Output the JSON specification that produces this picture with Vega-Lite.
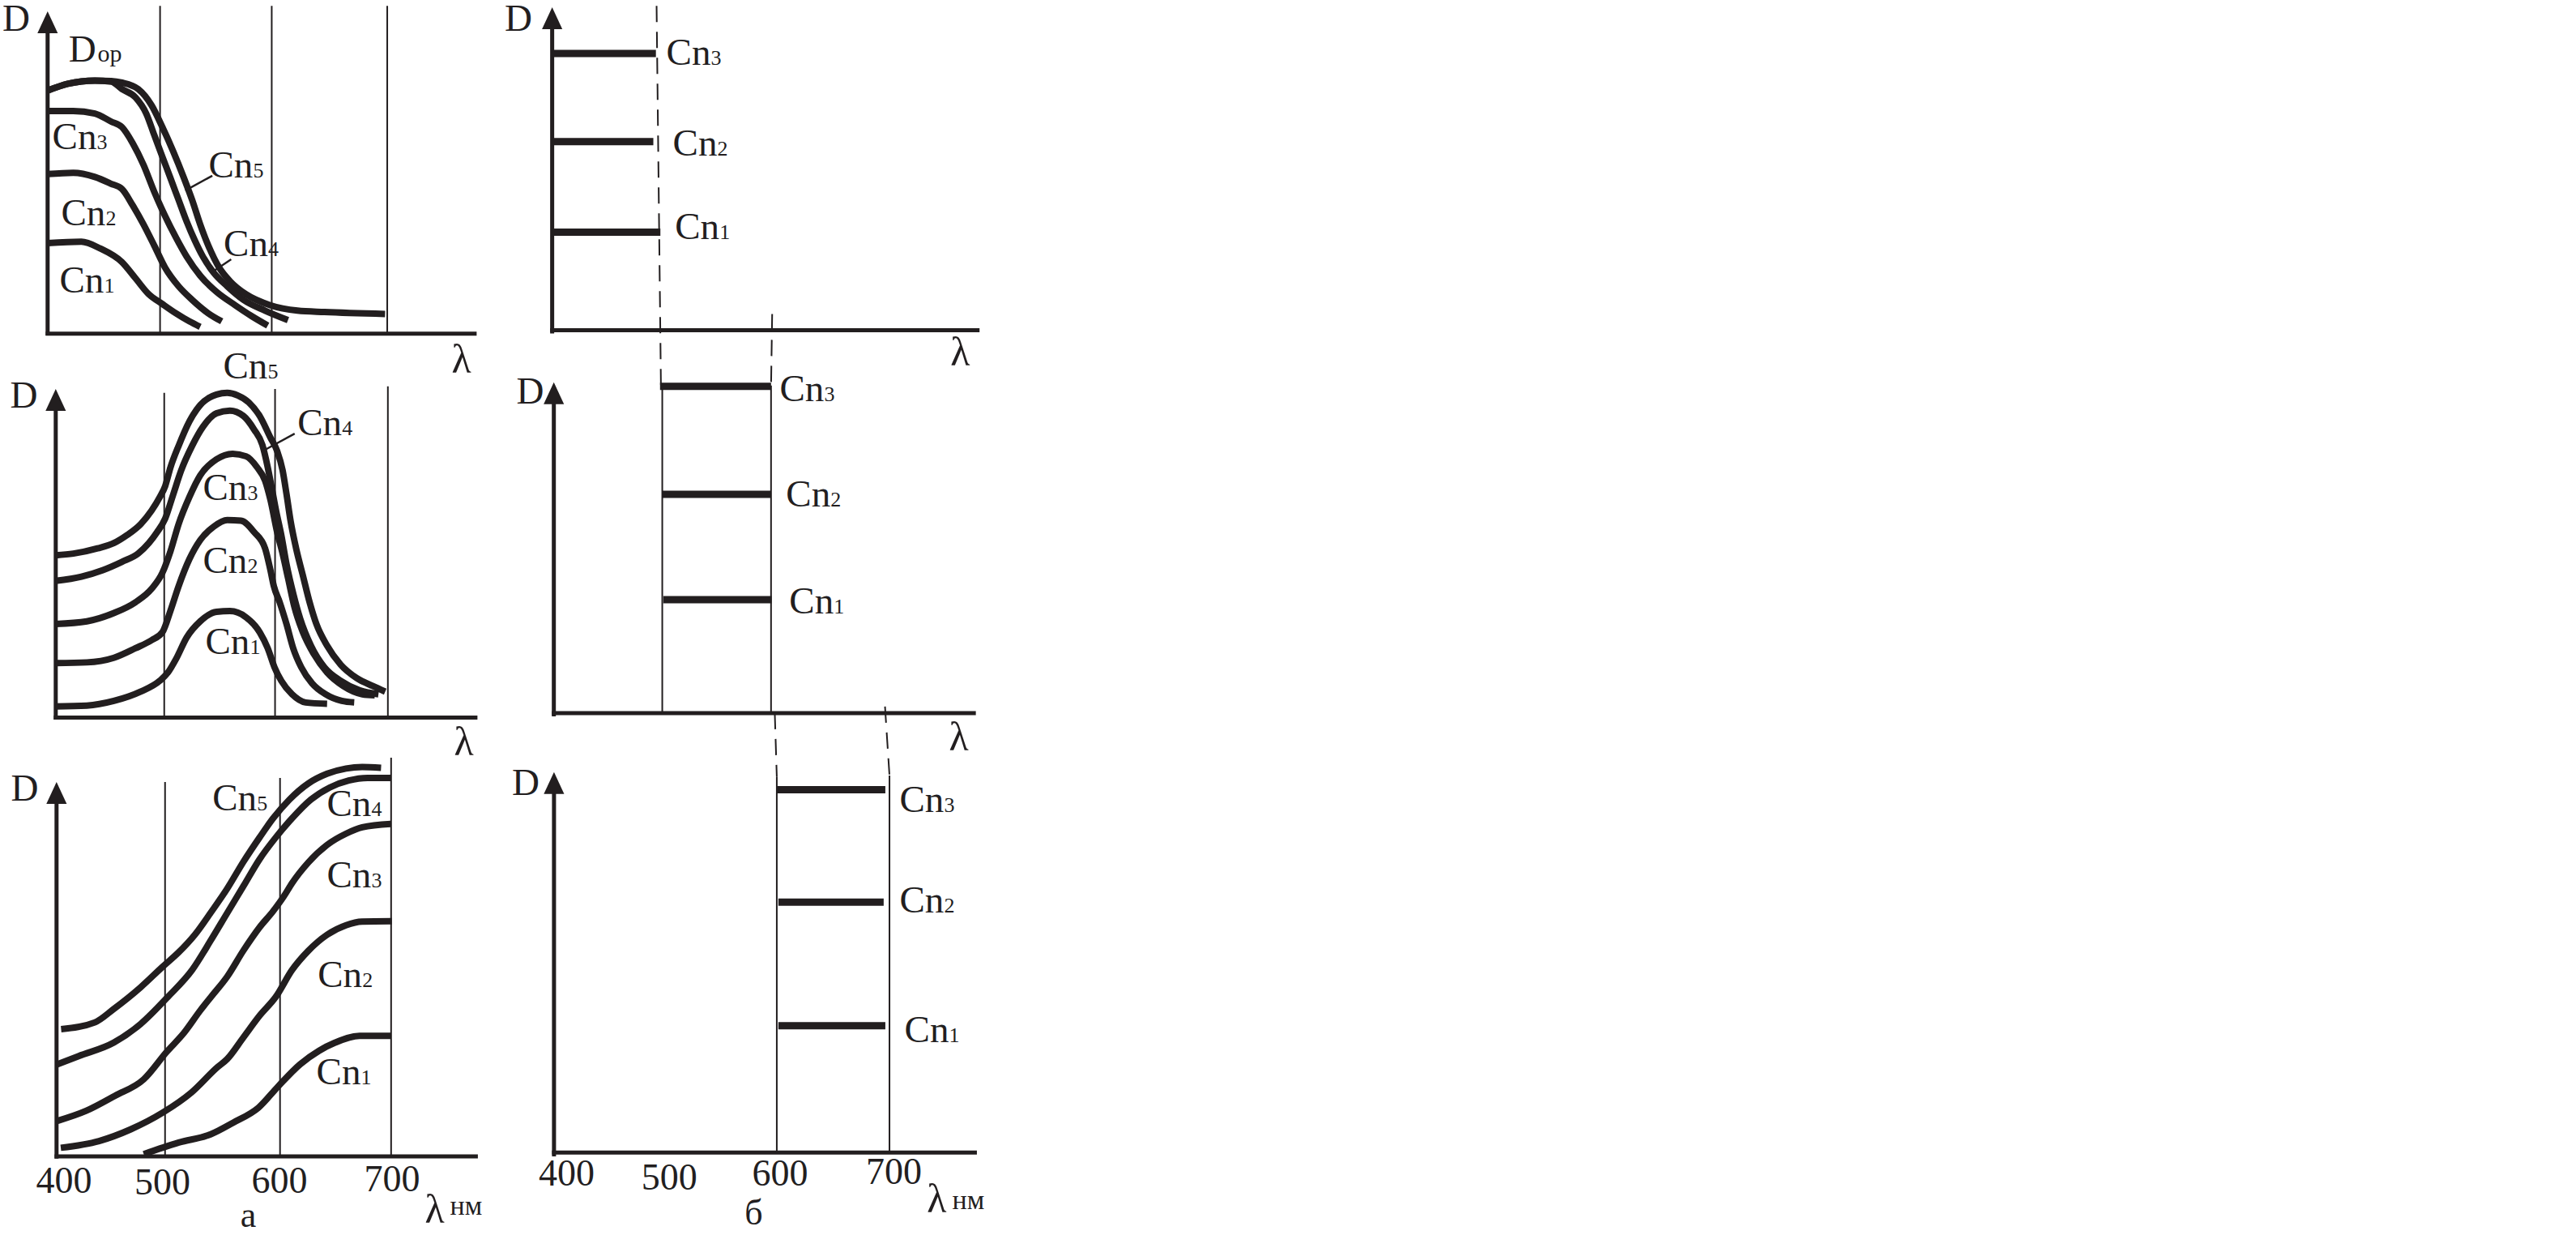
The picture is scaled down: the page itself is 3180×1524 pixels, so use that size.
{
"$schema": "https://vega.github.io/schema/vega-lite/v6.json",
"background": "white",
"padding": {"left": 2.5, "top": 0, "right": 20, "bottom": 0},
"config": {"view": {"stroke": null}, "font": "Liberation Serif"},
"datasets": {"fig": [
{"p":"a1","g":"axis","x":400,"y":-0.006,"x2":400,"y2":0.96},
{"p":"a1","g":"axis","x":398.3,"y":0,"x2":777.7,"y2":0},
{"p":"a1","g":"grid","x":499,"y":0,"x2":499,"y2":1.017},
{"p":"a1","g":"grid","x":597.3,"y":0,"x2":597.3,"y2":1.017},
{"p":"a1","g":"grid","x":699,"y":0,"x2":699,"y2":1.017},
{"p":"a1","g":"lead","x":521.2,"y":0.444,"x2":545,"y2":0.49},
{"p":"a1","g":"lead","x":543.8,"y":0.1886,"x2":561.6,"y2":0.2307},
{"p":"a1","g":"arrow","x":400,"y":1},
{"p":"a1","g":"D","t":"D","x":360.2,"y":0.9391},
{"p":"a1","g":"D","t":"D","x":418.5,"y":0.8436},
{"p":"a1","g":"op","t":"ор","x":444,"y":0.8436},
{"p":"a1","g":"cn","t":"Cn","sub":"3","x":404.1,"y":0.5725},
{"p":"a1","g":"cn","t":"Cn","sub":"2","x":411.9,"y":0.336},
{"p":"a1","g":"cn","t":"Cn","sub":"1","x":410.5,"y":0.1275},
{"p":"a1","g":"cn","t":"Cn","sub":"5","x":541.7,"y":0.4845},
{"p":"a1","g":"cn","t":"Cn","sub":"4","x":555,"y":0.241},
{"p":"a1","g":"lam","t":"λ","x":755.6,"y":-0.1215},
{"p":"a1","g":"curve","s":"Cn1","x":400,"y":0.281},{"p":"a1","g":"curve","s":"Cn1","x":429.7,"y":0.285},{"p":"a1","g":"curve","s":"Cn1","x":446.4,"y":0.264},{"p":"a1","g":"curve","s":"Cn1","x":465.4,"y":0.222},{"p":"a1","g":"curve","s":"Cn1","x":477.3,"y":0.172},{"p":"a1","g":"curve","s":"Cn1","x":489.1,"y":0.122},{"p":"a1","g":"curve","s":"Cn1","x":501,"y":0.092},{"p":"a1","g":"curve","s":"Cn1","x":513,"y":0.063},{"p":"a1","g":"curve","s":"Cn1","x":524.8,"y":0.038},{"p":"a1","g":"curve","s":"Cn1","x":534.3,"y":0.021},
{"p":"a1","g":"curve","s":"Cn2","x":400,"y":0.495},{"p":"a1","g":"curve","s":"Cn2","x":422.6,"y":0.499},{"p":"a1","g":"curve","s":"Cn2","x":441.6,"y":0.486},{"p":"a1","g":"curve","s":"Cn2","x":455.9,"y":0.465},{"p":"a1","g":"curve","s":"Cn2","x":465.4,"y":0.449},{"p":"a1","g":"curve","s":"Cn2","x":474.9,"y":0.398},{"p":"a1","g":"curve","s":"Cn2","x":484.4,"y":0.339},{"p":"a1","g":"curve","s":"Cn2","x":493.9,"y":0.273},{"p":"a1","g":"curve","s":"Cn2","x":503.4,"y":0.205},{"p":"a1","g":"curve","s":"Cn2","x":515.3,"y":0.147},{"p":"a1","g":"curve","s":"Cn2","x":527.2,"y":0.105},{"p":"a1","g":"curve","s":"Cn2","x":541.5,"y":0.063},{"p":"a1","g":"curve","s":"Cn2","x":553.3,"y":0.038},
{"p":"a1","g":"curve","s":"Cn3","x":400,"y":0.691},{"p":"a1","g":"curve","s":"Cn3","x":422.6,"y":0.691},{"p":"a1","g":"curve","s":"Cn3","x":441.6,"y":0.683},{"p":"a1","g":"curve","s":"Cn3","x":455.9,"y":0.658},{"p":"a1","g":"curve","s":"Cn3","x":465.4,"y":0.641},{"p":"a1","g":"curve","s":"Cn3","x":474.9,"y":0.591},{"p":"a1","g":"curve","s":"Cn3","x":484.4,"y":0.524},{"p":"a1","g":"curve","s":"Cn3","x":493.9,"y":0.44},{"p":"a1","g":"curve","s":"Cn3","x":503.4,"y":0.365},{"p":"a1","g":"curve","s":"Cn3","x":513,"y":0.298},{"p":"a1","g":"curve","s":"Cn3","x":522.4,"y":0.239},{"p":"a1","g":"curve","s":"Cn3","x":534.3,"y":0.18},{"p":"a1","g":"curve","s":"Cn3","x":548.6,"y":0.13},{"p":"a1","g":"curve","s":"Cn3","x":565.2,"y":0.088},{"p":"a1","g":"curve","s":"Cn3","x":579.5,"y":0.0546},{"p":"a1","g":"curve","s":"Cn3","x":593.8,"y":0.025},
{"p":"a1","g":"curve","s":"Cn4","x":400,"y":0.754},{"p":"a1","g":"curve","s":"Cn4","x":417.8,"y":0.775},{"p":"a1","g":"curve","s":"Cn4","x":441.6,"y":0.785},{"p":"a1","g":"curve","s":"Cn4","x":456,"y":0.782},{"p":"a1","g":"curve","s":"Cn4","x":465.4,"y":0.759},{"p":"a1","g":"curve","s":"Cn4","x":477.3,"y":0.733},{"p":"a1","g":"curve","s":"Cn4","x":486.8,"y":0.683},{"p":"a1","g":"curve","s":"Cn4","x":493.9,"y":0.616},{"p":"a1","g":"curve","s":"Cn4","x":501,"y":0.549},{"p":"a1","g":"curve","s":"Cn4","x":508.2,"y":0.482},{"p":"a1","g":"curve","s":"Cn4","x":515.3,"y":0.415},{"p":"a1","g":"curve","s":"Cn4","x":522.4,"y":0.348},{"p":"a1","g":"curve","s":"Cn4","x":529.6,"y":0.289},{"p":"a1","g":"curve","s":"Cn4","x":536.7,"y":0.239},{"p":"a1","g":"curve","s":"Cn4","x":546.2,"y":0.189},{"p":"a1","g":"curve","s":"Cn4","x":558.1,"y":0.147},{"p":"a1","g":"curve","s":"Cn4","x":572.4,"y":0.105},{"p":"a1","g":"curve","s":"Cn4","x":591.4,"y":0.0714},{"p":"a1","g":"curve","s":"Cn4","x":611.6,"y":0.042},
{"p":"a1","g":"curve","s":"Cn5","x":400,"y":0.754},{"p":"a1","g":"curve","s":"Cn5","x":417.8,"y":0.775},{"p":"a1","g":"curve","s":"Cn5","x":441.6,"y":0.785},{"p":"a1","g":"curve","s":"Cn5","x":456,"y":0.784},{"p":"a1","g":"curve","s":"Cn5","x":465.4,"y":0.779},{"p":"a1","g":"curve","s":"Cn5","x":479.7,"y":0.759},{"p":"a1","g":"curve","s":"Cn5","x":491.6,"y":0.708},{"p":"a1","g":"curve","s":"Cn5","x":501,"y":0.641},{"p":"a1","g":"curve","s":"Cn5","x":510.5,"y":0.566},{"p":"a1","g":"curve","s":"Cn5","x":520.1,"y":0.482},{"p":"a1","g":"curve","s":"Cn5","x":527.2,"y":0.415},{"p":"a1","g":"curve","s":"Cn5","x":534.3,"y":0.339},{"p":"a1","g":"curve","s":"Cn5","x":541.5,"y":0.273},{"p":"a1","g":"curve","s":"Cn5","x":551,"y":0.205},{"p":"a1","g":"curve","s":"Cn5","x":560.5,"y":0.163},{"p":"a1","g":"curve","s":"Cn5","x":574.7,"y":0.122},{"p":"a1","g":"curve","s":"Cn5","x":596.1,"y":0.088},{"p":"a1","g":"curve","s":"Cn5","x":619.9,"y":0.0714},{"p":"a1","g":"curve","s":"Cn5","x":643.7,"y":0.067},{"p":"a1","g":"curve","s":"Cn5","x":697.1,"y":0.061},

{"p":"a2","g":"axis","x":400,"y":-0.006,"x2":400,"y2":0.96},
{"p":"a2","g":"axis","x":398.2,"y":0,"x2":780.9,"y2":0},
{"p":"a2","g":"grid","x":498,"y":0,"x2":498,"y2":0.988},
{"p":"a2","g":"grid","x":598.1,"y":0,"x2":598.1,"y2":1.0},
{"p":"a2","g":"grid","x":700,"y":0,"x2":700,"y2":1.008},
{"p":"a2","g":"lead","x":589.1,"y":0.815,"x2":615.8,"y2":0.864},
{"p":"a2","g":"arrow","x":400,"y":1},
{"p":"a2","g":"D","t":"D","x":358.8,"y":0.943},
{"p":"a2","g":"cn","t":"Cn","sub":"5","x":551.2,"y":1.032},
{"p":"a2","g":"cn","t":"Cn","sub":"4","x":618.3,"y":0.86},
{"p":"a2","g":"cn","t":"Cn","sub":"3","x":532.9,"y":0.663},
{"p":"a2","g":"cn","t":"Cn","sub":"2","x":532.9,"y":0.441},
{"p":"a2","g":"cn","t":"Cn","sub":"1","x":535.1,"y":0.194},
{"p":"a2","g":"lam","t":"λ","x":759.8,"y":-0.1147},
{"p":"a2","g":"curve","s":"Cn1","x":400,"y":0.034},{"p":"a2","g":"curve","s":"Cn1","x":428.1,"y":0.0365},{"p":"a2","g":"curve","s":"Cn1","x":452.5,"y":0.0506},{"p":"a2","g":"curve","s":"Cn1","x":476.8,"y":0.079},{"p":"a2","g":"curve","s":"Cn1","x":494,"y":0.112},{"p":"a2","g":"curve","s":"Cn1","x":501.3,"y":0.137},{"p":"a2","g":"curve","s":"Cn1","x":508.6,"y":0.178},{"p":"a2","g":"curve","s":"Cn1","x":518.3,"y":0.244},{"p":"a2","g":"curve","s":"Cn1","x":530.5,"y":0.293},{"p":"a2","g":"curve","s":"Cn1","x":545.2,"y":0.322},{"p":"a2","g":"curve","s":"Cn1","x":557.3,"y":0.324},{"p":"a2","g":"curve","s":"Cn1","x":572,"y":0.305},{"p":"a2","g":"curve","s":"Cn1","x":584.2,"y":0.26},{"p":"a2","g":"curve","s":"Cn1","x":591.5,"y":0.211},{"p":"a2","g":"curve","s":"Cn1","x":597.6,"y":0.153},{"p":"a2","g":"curve","s":"Cn1","x":603.7,"y":0.112},{"p":"a2","g":"curve","s":"Cn1","x":613.4,"y":0.071},{"p":"a2","g":"curve","s":"Cn1","x":625.7,"y":0.046},{"p":"a2","g":"curve","s":"Cn1","x":645.1,"y":0.042},
{"p":"a2","g":"curve","s":"Cn2","x":400,"y":0.166},{"p":"a2","g":"curve","s":"Cn2","x":428.1,"y":0.168},{"p":"a2","g":"curve","s":"Cn2","x":452.5,"y":0.182},{"p":"a2","g":"curve","s":"Cn2","x":472,"y":0.211},{"p":"a2","g":"curve","s":"Cn2","x":486.6,"y":0.2355},{"p":"a2","g":"curve","s":"Cn2","x":496.4,"y":0.26},{"p":"a2","g":"curve","s":"Cn2","x":503.7,"y":0.326},{"p":"a2","g":"curve","s":"Cn2","x":511,"y":0.4},{"p":"a2","g":"curve","s":"Cn2","x":520.7,"y":0.482},{"p":"a2","g":"curve","s":"Cn2","x":530.5,"y":0.54},{"p":"a2","g":"curve","s":"Cn2","x":542.7,"y":0.581},{"p":"a2","g":"curve","s":"Cn2","x":554.9,"y":0.601},{"p":"a2","g":"curve","s":"Cn2","x":567.3,"y":0.599},{"p":"a2","g":"curve","s":"Cn2","x":579.3,"y":0.564},{"p":"a2","g":"curve","s":"Cn2","x":589.1,"y":0.515},{"p":"a2","g":"curve","s":"Cn2","x":593.9,"y":0.449},{"p":"a2","g":"curve","s":"Cn2","x":597,"y":0.4},{"p":"a2","g":"curve","s":"Cn2","x":602.3,"y":0.351},{"p":"a2","g":"curve","s":"Cn2","x":608.4,"y":0.285},{"p":"a2","g":"curve","s":"Cn2","x":614.5,"y":0.211},{"p":"a2","g":"curve","s":"Cn2","x":621.8,"y":0.153},{"p":"a2","g":"curve","s":"Cn2","x":631.6,"y":0.104},{"p":"a2","g":"curve","s":"Cn2","x":643.7,"y":0.071},{"p":"a2","g":"curve","s":"Cn2","x":658.4,"y":0.0506},{"p":"a2","g":"curve","s":"Cn2","x":669.6,"y":0.046},
{"p":"a2","g":"curve","s":"Cn3","x":400,"y":0.285},{"p":"a2","g":"curve","s":"Cn3","x":428.1,"y":0.293},{"p":"a2","g":"curve","s":"Cn3","x":452.5,"y":0.318},{"p":"a2","g":"curve","s":"Cn3","x":472,"y":0.351},{"p":"a2","g":"curve","s":"Cn3","x":486.6,"y":0.392},{"p":"a2","g":"curve","s":"Cn3","x":496.4,"y":0.441},{"p":"a2","g":"curve","s":"Cn3","x":503.7,"y":0.507},{"p":"a2","g":"curve","s":"Cn3","x":511,"y":0.589},{"p":"a2","g":"curve","s":"Cn3","x":520.7,"y":0.671},{"p":"a2","g":"curve","s":"Cn3","x":530.5,"y":0.737},{"p":"a2","g":"curve","s":"Cn3","x":545.2,"y":0.786},{"p":"a2","g":"curve","s":"Cn3","x":559.8,"y":0.803},{"p":"a2","g":"curve","s":"Cn3","x":572,"y":0.795},{"p":"a2","g":"curve","s":"Cn3","x":581.8,"y":0.762},{"p":"a2","g":"curve","s":"Cn3","x":589.1,"y":0.721},{"p":"a2","g":"curve","s":"Cn3","x":593.9,"y":0.663},{"p":"a2","g":"curve","s":"Cn3","x":600,"y":0.564},{"p":"a2","g":"curve","s":"Cn3","x":604.9,"y":0.499},{"p":"a2","g":"curve","s":"Cn3","x":609.8,"y":0.425},{"p":"a2","g":"curve","s":"Cn3","x":615.8,"y":0.334},{"p":"a2","g":"curve","s":"Cn3","x":623.2,"y":0.26},{"p":"a2","g":"curve","s":"Cn3","x":633,"y":0.194},{"p":"a2","g":"curve","s":"Cn3","x":645.1,"y":0.137},{"p":"a2","g":"curve","s":"Cn3","x":659.8,"y":0.0957},{"p":"a2","g":"curve","s":"Cn3","x":676.9,"y":0.071},{"p":"a2","g":"curve","s":"Cn3","x":688.1,"y":0.068},
{"p":"a2","g":"curve","s":"Cn4","x":400,"y":0.416},{"p":"a2","g":"curve","s":"Cn4","x":423.2,"y":0.429},{"p":"a2","g":"curve","s":"Cn4","x":442.7,"y":0.449},{"p":"a2","g":"curve","s":"Cn4","x":459.8,"y":0.474},{"p":"a2","g":"curve","s":"Cn4","x":474.4,"y":0.499},{"p":"a2","g":"curve","s":"Cn4","x":484.1,"y":0.531},{"p":"a2","g":"curve","s":"Cn4","x":491.5,"y":0.564},{"p":"a2","g":"curve","s":"Cn4","x":498.8,"y":0.605},{"p":"a2","g":"curve","s":"Cn4","x":506.1,"y":0.679},{"p":"a2","g":"curve","s":"Cn4","x":513.4,"y":0.753},{"p":"a2","g":"curve","s":"Cn4","x":523.2,"y":0.827},{"p":"a2","g":"curve","s":"Cn4","x":533,"y":0.885},{"p":"a2","g":"curve","s":"Cn4","x":545.2,"y":0.926},{"p":"a2","g":"curve","s":"Cn4","x":557.3,"y":0.934},{"p":"a2","g":"curve","s":"Cn4","x":569.5,"y":0.918},{"p":"a2","g":"curve","s":"Cn4","x":579.3,"y":0.876},{"p":"a2","g":"curve","s":"Cn4","x":586.6,"y":0.83},{"p":"a2","g":"curve","s":"Cn4","x":591.5,"y":0.7615},{"p":"a2","g":"curve","s":"Cn4","x":595.3,"y":0.696},{"p":"a2","g":"curve","s":"Cn4","x":599,"y":0.63},{"p":"a2","g":"curve","s":"Cn4","x":603.7,"y":0.556},{"p":"a2","g":"curve","s":"Cn4","x":608.5,"y":0.466},{"p":"a2","g":"curve","s":"Cn4","x":614.7,"y":0.375},{"p":"a2","g":"curve","s":"Cn4","x":620.8,"y":0.301},{"p":"a2","g":"curve","s":"Cn4","x":630.5,"y":0.219},{"p":"a2","g":"curve","s":"Cn4","x":642.7,"y":0.153},{"p":"a2","g":"curve","s":"Cn4","x":657.3,"y":0.112},{"p":"a2","g":"curve","s":"Cn4","x":674.4,"y":0.083},{"p":"a2","g":"curve","s":"Cn4","x":691.5,"y":0.071},
{"p":"a2","g":"curve","s":"Cn5","x":400,"y":0.494},{"p":"a2","g":"curve","s":"Cn5","x":415.9,"y":0.499},{"p":"a2","g":"curve","s":"Cn5","x":437.8,"y":0.515},{"p":"a2","g":"curve","s":"Cn5","x":452.5,"y":0.531},{"p":"a2","g":"curve","s":"Cn5","x":464.7,"y":0.556},{"p":"a2","g":"curve","s":"Cn5","x":476.8,"y":0.589},{"p":"a2","g":"curve","s":"Cn5","x":486.6,"y":0.63},{"p":"a2","g":"curve","s":"Cn5","x":494,"y":0.671},{"p":"a2","g":"curve","s":"Cn5","x":498.8,"y":0.704},{"p":"a2","g":"curve","s":"Cn5","x":503.7,"y":0.762},{"p":"a2","g":"curve","s":"Cn5","x":511,"y":0.827},{"p":"a2","g":"curve","s":"Cn5","x":520.7,"y":0.901},{"p":"a2","g":"curve","s":"Cn5","x":530.5,"y":0.951},{"p":"a2","g":"curve","s":"Cn5","x":545.2,"y":0.983},{"p":"a2","g":"curve","s":"Cn5","x":554.9,"y":0.988},{"p":"a2","g":"curve","s":"Cn5","x":564.6,"y":0.98},{"p":"a2","g":"curve","s":"Cn5","x":574.4,"y":0.959},{"p":"a2","g":"curve","s":"Cn5","x":584.2,"y":0.918},{"p":"a2","g":"curve","s":"Cn5","x":593.9,"y":0.852},{"p":"a2","g":"curve","s":"Cn5","x":600,"y":0.811},{"p":"a2","g":"curve","s":"Cn5","x":604.9,"y":0.753},{"p":"a2","g":"curve","s":"Cn5","x":608.5,"y":0.679},{"p":"a2","g":"curve","s":"Cn5","x":612.2,"y":0.597},{"p":"a2","g":"curve","s":"Cn5","x":617.1,"y":0.515},{"p":"a2","g":"curve","s":"Cn5","x":623.2,"y":0.433},{"p":"a2","g":"curve","s":"Cn5","x":629.3,"y":0.351},{"p":"a2","g":"curve","s":"Cn5","x":635.4,"y":0.285},{"p":"a2","g":"curve","s":"Cn5","x":645.1,"y":0.219},{"p":"a2","g":"curve","s":"Cn5","x":657.3,"y":0.1615},{"p":"a2","g":"curve","s":"Cn5","x":672,"y":0.12},{"p":"a2","g":"curve","s":"Cn5","x":686.6,"y":0.0957},{"p":"a2","g":"curve","s":"Cn5","x":697.6,"y":0.079},

{"p":"a3","g":"axis","x":400,"y":-0.006,"x2":400,"y2":0.96},
{"p":"a3","g":"axis","x":398.2,"y":0,"x2":777.8,"y2":0},
{"p":"a3","g":"grid","x":497.3,"y":0,"x2":497.3,"y2":1.0},
{"p":"a3","g":"grid","x":600.4,"y":0,"x2":600.4,"y2":1.011},
{"p":"a3","g":"grid","x":700,"y":0,"x2":700,"y2":1.065},
{"p":"a3","g":"arrow","x":400,"y":1},
{"p":"a3","g":"D","t":"D","x":359.1,"y":0.95},
{"p":"a3","g":"cn","t":"Cn","sub":"5","x":539.8,"y":0.924},
{"p":"a3","g":"cn","t":"Cn","sub":"4","x":642.4,"y":0.91},
{"p":"a3","g":"cn","t":"Cn","sub":"3","x":642.4,"y":0.7186},
{"p":"a3","g":"cn","t":"Cn","sub":"2","x":634.2,"y":0.4517},
{"p":"a3","g":"cn","t":"Cn","sub":"1","x":633,"y":0.1926},
{"p":"a3","g":"lam","t":"λ","x":730.3,"y":-0.1775},
{"p":"a3","g":"nm","t":"нм","x":752.8,"y":-0.1558},
{"p":"a3","g":"cap","t":"а","x":571.9,"y":-0.188},
{"p":"a3","g":"tick","t":"400","x":406.7,"y":-0.097},
{"p":"a3","g":"tick","t":"500","x":494.9,"y":-0.1017},
{"p":"a3","g":"tick","t":"600","x":599.9,"y":-0.0974},
{"p":"a3","g":"tick","t":"700","x":700.9,"y":-0.0931},
{"p":"a3","g":"curve","s":"Cn1","x":478.2,"y":0.006},{"p":"a3","g":"curve","s":"Cn1","x":509.6,"y":0.037},{"p":"a3","g":"curve","s":"Cn1","x":538.2,"y":0.059},{"p":"a3","g":"curve","s":"Cn1","x":558.3,"y":0.09},{"p":"a3","g":"curve","s":"Cn1","x":581.2,"y":0.1305},{"p":"a3","g":"curve","s":"Cn1","x":599,"y":0.188},{"p":"a3","g":"curve","s":"Cn1","x":618.4,"y":0.246},{"p":"a3","g":"curve","s":"Cn1","x":635.3,"y":0.282},{"p":"a3","g":"curve","s":"Cn1","x":649.9,"y":0.304},{"p":"a3","g":"curve","s":"Cn1","x":671.7,"y":0.322},{"p":"a3","g":"curve","s":"Cn1","x":699.6,"y":0.322},
{"p":"a3","g":"curve","s":"Cn2","x":403.8,"y":0.023},{"p":"a3","g":"curve","s":"Cn2","x":438.1,"y":0.041},{"p":"a3","g":"curve","s":"Cn2","x":466.7,"y":0.0725},{"p":"a3","g":"curve","s":"Cn2","x":495.3,"y":0.117},{"p":"a3","g":"curve","s":"Cn2","x":521.1,"y":0.171},{"p":"a3","g":"curve","s":"Cn2","x":544,"y":0.2375},{"p":"a3","g":"curve","s":"Cn2","x":553,"y":0.26},{"p":"a3","g":"curve","s":"Cn2","x":567.6,"y":0.318},{"p":"a3","g":"curve","s":"Cn2","x":582.1,"y":0.376},{"p":"a3","g":"curve","s":"Cn2","x":596.6,"y":0.426},{"p":"a3","g":"curve","s":"Cn2","x":611.2,"y":0.498},{"p":"a3","g":"curve","s":"Cn2","x":625.7,"y":0.549},{"p":"a3","g":"curve","s":"Cn2","x":642.6,"y":0.592},{"p":"a3","g":"curve","s":"Cn2","x":659.6,"y":0.6175},{"p":"a3","g":"curve","s":"Cn2","x":674.1,"y":0.627},{"p":"a3","g":"curve","s":"Cn2","x":700.7,"y":0.628},
{"p":"a3","g":"curve","s":"Cn3","x":400.9,"y":0.095},{"p":"a3","g":"curve","s":"Cn3","x":426.7,"y":0.122},{"p":"a3","g":"curve","s":"Cn3","x":452.4,"y":0.162},{"p":"a3","g":"curve","s":"Cn3","x":478.2,"y":0.206},{"p":"a3","g":"curve","s":"Cn3","x":499,"y":0.28},{"p":"a3","g":"curve","s":"Cn3","x":514.3,"y":0.33},{"p":"a3","g":"curve","s":"Cn3","x":528.9,"y":0.39},{"p":"a3","g":"curve","s":"Cn3","x":538.5,"y":0.426},{"p":"a3","g":"curve","s":"Cn3","x":553,"y":0.48},{"p":"a3","g":"curve","s":"Cn3","x":567.6,"y":0.55},{"p":"a3","g":"curve","s":"Cn3","x":582.1,"y":0.612},{"p":"a3","g":"curve","s":"Cn3","x":594.2,"y":0.655},{"p":"a3","g":"curve","s":"Cn3","x":603.9,"y":0.695},{"p":"a3","g":"curve","s":"Cn3","x":611.2,"y":0.73},{"p":"a3","g":"curve","s":"Cn3","x":625.7,"y":0.785},{"p":"a3","g":"curve","s":"Cn3","x":642.6,"y":0.832},{"p":"a3","g":"curve","s":"Cn3","x":659.6,"y":0.862},{"p":"a3","g":"curve","s":"Cn3","x":674.1,"y":0.879},{"p":"a3","g":"curve","s":"Cn3","x":699.6,"y":0.888},
{"p":"a3","g":"curve","s":"Cn4","x":400,"y":0.245},{"p":"a3","g":"curve","s":"Cn4","x":419.9,"y":0.268},{"p":"a3","g":"curve","s":"Cn4","x":451.4,"y":0.304},{"p":"a3","g":"curve","s":"Cn4","x":475.5,"y":0.354},{"p":"a3","g":"curve","s":"Cn4","x":499.8,"y":0.426},{"p":"a3","g":"curve","s":"Cn4","x":521.6,"y":0.498},{"p":"a3","g":"curve","s":"Cn4","x":538.5,"y":0.578},{"p":"a3","g":"curve","s":"Cn4","x":553,"y":0.65},{"p":"a3","g":"curve","s":"Cn4","x":567.6,"y":0.722},{"p":"a3","g":"curve","s":"Cn4","x":582.1,"y":0.794},{"p":"a3","g":"curve","s":"Cn4","x":596.6,"y":0.852},{"p":"a3","g":"curve","s":"Cn4","x":611.2,"y":0.903},{"p":"a3","g":"curve","s":"Cn4","x":628.1,"y":0.953},{"p":"a3","g":"curve","s":"Cn4","x":645.1,"y":0.9855},{"p":"a3","g":"curve","s":"Cn4","x":662,"y":1.004},{"p":"a3","g":"curve","s":"Cn4","x":678.9,"y":1.011},{"p":"a3","g":"curve","s":"Cn4","x":699.6,"y":1.011},
{"p":"a3","g":"curve","s":"Cn5","x":404.1,"y":0.34},{"p":"a3","g":"curve","s":"Cn5","x":434.4,"y":0.358},{"p":"a3","g":"curve","s":"Cn5","x":451.4,"y":0.394},{"p":"a3","g":"curve","s":"Cn5","x":475.5,"y":0.452},{"p":"a3","g":"curve","s":"Cn5","x":494.9,"y":0.506},{"p":"a3","g":"curve","s":"Cn5","x":509.5,"y":0.545},{"p":"a3","g":"curve","s":"Cn5","x":524,"y":0.592},{"p":"a3","g":"curve","s":"Cn5","x":538.5,"y":0.652},{"p":"a3","g":"curve","s":"Cn5","x":553,"y":0.715},{"p":"a3","g":"curve","s":"Cn5","x":567.6,"y":0.787},{"p":"a3","g":"curve","s":"Cn5","x":582.1,"y":0.852},{"p":"a3","g":"curve","s":"Cn5","x":594.2,"y":0.903},{"p":"a3","g":"curve","s":"Cn5","x":608.8,"y":0.953},{"p":"a3","g":"curve","s":"Cn5","x":625.7,"y":0.996},{"p":"a3","g":"curve","s":"Cn5","x":642.6,"y":1.022},{"p":"a3","g":"curve","s":"Cn5","x":659.6,"y":1.036},{"p":"a3","g":"curve","s":"Cn5","x":674.1,"y":1.04},{"p":"a3","g":"curve","s":"Cn5","x":691,"y":1.038},

{"p":"b1","g":"axis","x":400,"y":-0.01,"x2":400,"y2":0.955},
{"p":"b1","g":"axis","x":398.2,"y":0,"x2":782.3,"y2":0},
{"p":"b1","g":"bar","x":400,"y":0.8567,"x2":492.8,"y2":0.8567},
{"p":"b1","g":"bar","x":400,"y":0.584,"x2":490.5,"y2":0.584},
{"p":"b1","g":"bar","x":400,"y":0.3038,"x2":496.8,"y2":0.3038},
{"p":"b1","g":"dash","x":493.4,"y":1.0043,"x2":497.3,"y2":-0.1734},
{"p":"b1","g":"dash","x":596.8,"y":0.0507,"x2":595.8,"y2":-0.1734},
{"p":"b1","g":"arrow","x":400,"y":1},
{"p":"b1","g":"D","t":"D","x":357.5,"y":0.926},
{"p":"b1","g":"cn","t":"Cn","sub":"3","x":502.1,"y":0.8229},
{"p":"b1","g":"cn","t":"Cn","sub":"2","x":507.9,"y":0.54},
{"p":"b1","g":"cn","t":"Cn","sub":"1","x":509.8,"y":0.2825},
{"p":"b1","g":"lam","t":"λ","x":756.3,"y":-0.1096},

{"p":"b2","g":"axis","x":400,"y":-0.01,"x2":400,"y2":0.955},
{"p":"b2","g":"axis","x":398.2,"y":0,"x2":777.5,"y2":0},
{"p":"b2","g":"grid","x":497,"y":0,"x2":497,"y2":0.99},
{"p":"b2","g":"grid","x":594.3,"y":0,"x2":594.3,"y2":0.99},
{"p":"b2","g":"bar","x":495,"y":0.9878,"x2":594.3,"y2":0.9878},
{"p":"b2","g":"bar","x":497,"y":0.6613,"x2":594.3,"y2":0.6613},
{"p":"b2","g":"bar","x":497.9,"y":0.3429,"x2":594.9,"y2":0.3429},
{"p":"b2","g":"arrow","x":400,"y":1},
{"p":"b2","g":"D","t":"D","x":366.5,"y":0.9356},
{"p":"b2","g":"cn","t":"Cn","sub":"3","x":602,"y":0.943},
{"p":"b2","g":"cn","t":"Cn","sub":"2","x":607.7,"y":0.6245},
{"p":"b2","g":"cn","t":"Cn","sub":"1","x":610.6,"y":0.302},
{"p":"b2","g":"lam","t":"λ","x":753.5,"y":-0.1127},

{"p":"b3","g":"axis","x":400,"y":-0.01,"x2":400,"y2":0.955},
{"p":"b3","g":"axis","x":398.2,"y":0,"x2":778.3,"y2":0},
{"p":"b3","g":"grid","x":599.3,"y":0,"x2":599.3,"y2":0.987},
{"p":"b3","g":"grid","x":700.1,"y":0,"x2":700.1,"y2":0.991},
{"p":"b3","g":"dash","x":597.5,"y":1.155,"x2":599.3,"y2":0.987},
{"p":"b3","g":"dash","x":696.1,"y":1.172,"x2":700.1,"y2":0.991},
{"p":"b3","g":"bar","x":599.3,"y":0.9536,"x2":696.4,"y2":0.9536},
{"p":"b3","g":"bar","x":600.7,"y":0.658,"x2":694.9,"y2":0.658},
{"p":"b3","g":"bar","x":600.7,"y":0.3333,"x2":696.4,"y2":0.3333},
{"p":"b3","g":"arrow","x":400,"y":1},
{"p":"b3","g":"D","t":"D","x":362.3,"y":0.9387},
{"p":"b3","g":"cn","t":"Cn","sub":"3","x":709.1,"y":0.895},
{"p":"b3","g":"cn","t":"Cn","sub":"2","x":709.1,"y":0.6316},
{"p":"b3","g":"cn","t":"Cn","sub":"1","x":713.5,"y":0.2894},
{"p":"b3","g":"lam","t":"λ","x":733.5,"y":-0.158},
{"p":"b3","g":"nm","t":"нм","x":756.2,"y":-0.1493},
{"p":"b3","g":"cap","t":"б","x":578.7,"y":-0.189},
{"p":"b3","g":"tick","t":"400","x":411.3,"y":-0.0877},
{"p":"b3","g":"tick","t":"500","x":503.1,"y":-0.0967},
{"p":"b3","g":"tick","t":"600","x":602.2,"y":-0.0877},
{"p":"b3","g":"tick","t":"700","x":704.1,"y":-0.0834}
]},
"columns": 2,
"spacing": {"row": 50, "column": 91},
"bounds": "flush",
"concat": [
{"width": 532, "height": 405, "data": {"name": "fig"}, "transform": [{"filter": "datum.p == 'a1'"}],
 "encoding": {"x": {"field": "x", "type": "quantitative", "scale": {"domain": [399.8, 779.2], "nice": false, "zero": false}, "axis": null},
              "y": {"field": "y", "type": "quantitative", "scale": {"domain": [-0.00075, 1.0176], "nice": false, "zero": false}, "axis": null}},
 "layer": [
  {"transform": [{"filter": "datum.g == 'axis'"}], "mark": {"type": "rule", "color": "#221e1f", "strokeWidth": 5, "strokeCap": "butt"}, "encoding": {"x2": {"field": "x2"}, "y2": {"field": "y2"}}},
  {"transform": [{"filter": "datum.g == 'grid'"}], "mark": {"type": "rule", "color": "#221e1f", "strokeWidth": 2, "strokeCap": "butt"}, "encoding": {"x2": {"field": "x2"}, "y2": {"field": "y2"}}},
  {"transform": [{"filter": "datum.g == 'lead'"}], "mark": {"type": "rule", "color": "#221e1f", "strokeWidth": 2.5, "strokeCap": "butt"}, "encoding": {"x2": {"field": "x2"}, "y2": {"field": "y2"}}},
  {"transform": [{"filter": "datum.g == 'curve'"}], "mark": {"type": "line", "color": "#221e1f", "strokeWidth": 8, "interpolate": "monotone", "strokeCap": "butt", "strokeJoin": "round"}, "encoding": {"detail": {"field": "s", "type": "nominal"}}},
  {"transform": [{"filter": "datum.g == 'arrow'"}], "mark": {"type": "point", "shape": "M0,0L0.93,2L-0.93,2Z", "size": 729, "filled": true, "color": "#221e1f", "opacity": 1, "strokeWidth": 0}},
  {"transform": [{"filter": "datum.g == 'cn' || datum.g == 'D'"}], "mark": {"type": "text", "align": "left", "baseline": "alphabetic", "font": "Liberation Serif", "fontSize": 47, "color": "#221e1f"}, "encoding": {"text": {"field": "t"}}},
  {"transform": [{"filter": "datum.g == 'cn'"}], "mark": {"type": "text", "align": "left", "baseline": "alphabetic", "font": "Liberation Serif", "fontSize": 26, "dx": 55, "color": "#221e1f"}, "encoding": {"text": {"field": "sub"}}},
  {"transform": [{"filter": "datum.g == 'lam'"}], "mark": {"type": "text", "align": "left", "baseline": "alphabetic", "font": "Liberation Serif", "fontSize": 50, "color": "#221e1f"}, "encoding": {"text": {"field": "t"}}},
  {"transform": [{"filter": "datum.g == 'op'"}], "mark": {"type": "text", "align": "left", "baseline": "alphabetic", "font": "Liberation Serif", "fontSize": 30, "color": "#221e1f"}, "encoding": {"text": {"field": "t"}}}
 ]},
{"width": 532, "height": 405, "data": {"name": "fig"}, "transform": [{"filter": "datum.p == 'b1'"}],
 "encoding": {"x": {"field": "x", "type": "quantitative", "scale": {"domain": [399.9, 785.4], "nice": false, "zero": false}, "axis": null},
              "y": {"field": "y", "type": "quantitative", "scale": {"domain": [-0.01104, 1.00502], "nice": false, "zero": false}, "axis": null}},
 "layer": [
  {"transform": [{"filter": "datum.g == 'axis'"}], "mark": {"type": "rule", "color": "#221e1f", "strokeWidth": 5, "strokeCap": "butt"}, "encoding": {"x2": {"field": "x2"}, "y2": {"field": "y2"}}},
  {"transform": [{"filter": "datum.g == 'bar'"}], "mark": {"type": "rule", "color": "#221e1f", "strokeWidth": 9, "strokeCap": "butt"}, "encoding": {"x2": {"field": "x2"}, "y2": {"field": "y2"}}},
  {"transform": [{"filter": "datum.g == 'dash'"}], "mark": {"type": "rule", "color": "#221e1f", "strokeWidth": 2, "strokeDash": [20, 12], "strokeCap": "butt"}, "encoding": {"x2": {"field": "x2"}, "y2": {"field": "y2"}}},
  {"transform": [{"filter": "datum.g == 'arrow'"}], "mark": {"type": "point", "shape": "M0,0L0.93,2L-0.93,2Z", "size": 729, "filled": true, "color": "#221e1f", "opacity": 1, "strokeWidth": 0}},
  {"transform": [{"filter": "datum.g == 'cn' || datum.g == 'D'"}], "mark": {"type": "text", "align": "left", "baseline": "alphabetic", "font": "Liberation Serif", "fontSize": 47, "color": "#221e1f"}, "encoding": {"text": {"field": "t"}}},
  {"transform": [{"filter": "datum.g == 'cn'"}], "mark": {"type": "text", "align": "left", "baseline": "alphabetic", "font": "Liberation Serif", "fontSize": 26, "dx": 55, "color": "#221e1f"}, "encoding": {"text": {"field": "sub"}}},
  {"transform": [{"filter": "datum.g == 'lam'"}], "mark": {"type": "text", "align": "left", "baseline": "alphabetic", "font": "Liberation Serif", "fontSize": 50, "color": "#221e1f"}, "encoding": {"text": {"field": "t"}}}
 ]},
{"width": 532, "height": 424, "data": {"name": "fig"}, "transform": [{"filter": "datum.p == 'a2'"}],
 "encoding": {"x": {"field": "x", "type": "quantitative", "scale": {"domain": [392.46, 781.72], "nice": false, "zero": false}, "axis": null},
              "y": {"field": "y", "type": "quantitative", "scale": {"domain": [-0.00123, 1.04439], "nice": false, "zero": false}, "axis": null}},
 "layer": [
  {"transform": [{"filter": "datum.g == 'axis'"}], "mark": {"type": "rule", "color": "#221e1f", "strokeWidth": 5, "strokeCap": "butt"}, "encoding": {"x2": {"field": "x2"}, "y2": {"field": "y2"}}},
  {"transform": [{"filter": "datum.g == 'grid'"}], "mark": {"type": "rule", "color": "#221e1f", "strokeWidth": 2, "strokeCap": "butt"}, "encoding": {"x2": {"field": "x2"}, "y2": {"field": "y2"}}},
  {"transform": [{"filter": "datum.g == 'lead'"}], "mark": {"type": "rule", "color": "#221e1f", "strokeWidth": 2.5, "strokeCap": "butt"}, "encoding": {"x2": {"field": "x2"}, "y2": {"field": "y2"}}},
  {"transform": [{"filter": "datum.g == 'curve'"}], "mark": {"type": "line", "color": "#221e1f", "strokeWidth": 8, "interpolate": "monotone", "strokeCap": "butt", "strokeJoin": "round"}, "encoding": {"detail": {"field": "s", "type": "nominal"}}},
  {"transform": [{"filter": "datum.g == 'arrow'"}], "mark": {"type": "point", "shape": "M0,0L0.93,2L-0.93,2Z", "size": 729, "filled": true, "color": "#221e1f", "opacity": 1, "strokeWidth": 0}},
  {"transform": [{"filter": "datum.g == 'cn' || datum.g == 'D'"}], "mark": {"type": "text", "align": "left", "baseline": "alphabetic", "font": "Liberation Serif", "fontSize": 47, "color": "#221e1f"}, "encoding": {"text": {"field": "t"}}},
  {"transform": [{"filter": "datum.g == 'cn'"}], "mark": {"type": "text", "align": "left", "baseline": "alphabetic", "font": "Liberation Serif", "fontSize": 26, "dx": 55, "color": "#221e1f"}, "encoding": {"text": {"field": "sub"}}},
  {"transform": [{"filter": "datum.g == 'lam'"}], "mark": {"type": "text", "align": "left", "baseline": "alphabetic", "font": "Liberation Serif", "fontSize": 50, "color": "#221e1f"}, "encoding": {"text": {"field": "t"}}}
 ]},
{"width": 532, "height": 424, "data": {"name": "fig"}, "transform": [{"filter": "datum.p == 'b2'"}],
 "encoding": {"x": {"field": "x", "type": "quantitative", "scale": {"domain": [398.41, 783.91], "nice": false, "zero": false}, "axis": null},
              "y": {"field": "y", "type": "quantitative", "scale": {"domain": [-0.0147, 1.02376], "nice": false, "zero": false}, "axis": null}},
 "layer": [
  {"transform": [{"filter": "datum.g == 'axis'"}], "mark": {"type": "rule", "color": "#221e1f", "strokeWidth": 5, "strokeCap": "butt"}, "encoding": {"x2": {"field": "x2"}, "y2": {"field": "y2"}}},
  {"transform": [{"filter": "datum.g == 'grid'"}], "mark": {"type": "rule", "color": "#221e1f", "strokeWidth": 2, "strokeCap": "butt"}, "encoding": {"x2": {"field": "x2"}, "y2": {"field": "y2"}}},
  {"transform": [{"filter": "datum.g == 'bar'"}], "mark": {"type": "rule", "color": "#221e1f", "strokeWidth": 9, "strokeCap": "butt"}, "encoding": {"x2": {"field": "x2"}, "y2": {"field": "y2"}}},
  {"transform": [{"filter": "datum.g == 'arrow'"}], "mark": {"type": "point", "shape": "M0,0L0.93,2L-0.93,2Z", "size": 729, "filled": true, "color": "#221e1f", "opacity": 1, "strokeWidth": 0}},
  {"transform": [{"filter": "datum.g == 'cn' || datum.g == 'D'"}], "mark": {"type": "text", "align": "left", "baseline": "alphabetic", "font": "Liberation Serif", "fontSize": 47, "color": "#221e1f"}, "encoding": {"text": {"field": "t"}}},
  {"transform": [{"filter": "datum.g == 'cn'"}], "mark": {"type": "text", "align": "left", "baseline": "alphabetic", "font": "Liberation Serif", "fontSize": 26, "dx": 55, "color": "#221e1f"}, "encoding": {"text": {"field": "sub"}}},
  {"transform": [{"filter": "datum.g == 'lam'"}], "mark": {"type": "text", "align": "left", "baseline": "alphabetic", "font": "Liberation Serif", "fontSize": 50, "color": "#221e1f"}, "encoding": {"text": {"field": "t"}}}
 ]},
{"width": 532, "height": 491, "data": {"name": "fig"}, "transform": [{"filter": "datum.p == 'a3'"}],
 "encoding": {"x": {"field": "x", "type": "quantitative", "scale": {"domain": [391.79, 778.22], "nice": false, "zero": false}, "axis": null},
              "y": {"field": "y", "type": "quantitative", "scale": {"domain": [0, 1.06277], "nice": false, "zero": false}, "axis": null}},
 "layer": [
  {"transform": [{"filter": "datum.g == 'axis'"}], "mark": {"type": "rule", "color": "#221e1f", "strokeWidth": 5, "strokeCap": "butt"}, "encoding": {"x2": {"field": "x2"}, "y2": {"field": "y2"}}},
  {"transform": [{"filter": "datum.g == 'grid'"}], "mark": {"type": "rule", "color": "#221e1f", "strokeWidth": 2, "strokeCap": "butt"}, "encoding": {"x2": {"field": "x2"}, "y2": {"field": "y2"}}},
  {"transform": [{"filter": "datum.g == 'curve'"}], "mark": {"type": "line", "color": "#221e1f", "strokeWidth": 8, "interpolate": "monotone", "strokeCap": "butt", "strokeJoin": "round"}, "encoding": {"detail": {"field": "s", "type": "nominal"}}},
  {"transform": [{"filter": "datum.g == 'arrow'"}], "mark": {"type": "point", "shape": "M0,0L0.93,2L-0.93,2Z", "size": 729, "filled": true, "color": "#221e1f", "opacity": 1, "strokeWidth": 0}},
  {"transform": [{"filter": "datum.g == 'cn' || datum.g == 'D'"}], "mark": {"type": "text", "align": "left", "baseline": "alphabetic", "font": "Liberation Serif", "fontSize": 47, "color": "#221e1f"}, "encoding": {"text": {"field": "t"}}},
  {"transform": [{"filter": "datum.g == 'cn'"}], "mark": {"type": "text", "align": "left", "baseline": "alphabetic", "font": "Liberation Serif", "fontSize": 26, "dx": 55, "color": "#221e1f"}, "encoding": {"text": {"field": "sub"}}},
  {"transform": [{"filter": "datum.g == 'lam'"}], "mark": {"type": "text", "align": "left", "baseline": "alphabetic", "font": "Liberation Serif", "fontSize": 50, "color": "#221e1f"}, "encoding": {"text": {"field": "t"}}},
  {"transform": [{"filter": "datum.g == 'nm'"}], "mark": {"type": "text", "align": "left", "baseline": "alphabetic", "font": "Liberation Serif", "fontSize": 34, "color": "#221e1f"}, "encoding": {"text": {"field": "t"}}},
  {"transform": [{"filter": "datum.g == 'tick'"}], "mark": {"type": "text", "align": "center", "baseline": "alphabetic", "font": "Liberation Serif", "fontSize": 46, "color": "#221e1f"}, "encoding": {"text": {"field": "t"}}},
  {"transform": [{"filter": "datum.g == 'cap'"}], "mark": {"type": "text", "align": "center", "baseline": "alphabetic", "font": "Liberation Serif", "fontSize": 44, "color": "#221e1f"}, "encoding": {"text": {"field": "t"}}}
 ]},
{"width": 532, "height": 491, "data": {"name": "fig"}, "transform": [{"filter": "datum.p == 'b3'"}],
 "encoding": {"x": {"field": "x", "type": "quantitative", "scale": {"domain": [398.26, 783.77], "nice": false, "zero": false}, "axis": null},
              "y": {"field": "y", "type": "quantitative", "scale": {"domain": [-0.01001, 1.03556], "nice": false, "zero": false}, "axis": null}},
 "layer": [
  {"transform": [{"filter": "datum.g == 'axis'"}], "mark": {"type": "rule", "color": "#221e1f", "strokeWidth": 5, "strokeCap": "butt"}, "encoding": {"x2": {"field": "x2"}, "y2": {"field": "y2"}}},
  {"transform": [{"filter": "datum.g == 'grid'"}], "mark": {"type": "rule", "color": "#221e1f", "strokeWidth": 2, "strokeCap": "butt"}, "encoding": {"x2": {"field": "x2"}, "y2": {"field": "y2"}}},
  {"transform": [{"filter": "datum.g == 'bar'"}], "mark": {"type": "rule", "color": "#221e1f", "strokeWidth": 9, "strokeCap": "butt"}, "encoding": {"x2": {"field": "x2"}, "y2": {"field": "y2"}}},
  {"transform": [{"filter": "datum.g == 'dash'"}], "mark": {"type": "rule", "color": "#221e1f", "strokeWidth": 2, "strokeDash": [20, 12], "strokeCap": "butt"}, "encoding": {"x2": {"field": "x2"}, "y2": {"field": "y2"}}},
  {"transform": [{"filter": "datum.g == 'arrow'"}], "mark": {"type": "point", "shape": "M0,0L0.93,2L-0.93,2Z", "size": 729, "filled": true, "color": "#221e1f", "opacity": 1, "strokeWidth": 0}},
  {"transform": [{"filter": "datum.g == 'cn' || datum.g == 'D'"}], "mark": {"type": "text", "align": "left", "baseline": "alphabetic", "font": "Liberation Serif", "fontSize": 47, "color": "#221e1f"}, "encoding": {"text": {"field": "t"}}},
  {"transform": [{"filter": "datum.g == 'cn'"}], "mark": {"type": "text", "align": "left", "baseline": "alphabetic", "font": "Liberation Serif", "fontSize": 26, "dx": 55, "color": "#221e1f"}, "encoding": {"text": {"field": "sub"}}},
  {"transform": [{"filter": "datum.g == 'lam'"}], "mark": {"type": "text", "align": "left", "baseline": "alphabetic", "font": "Liberation Serif", "fontSize": 50, "color": "#221e1f"}, "encoding": {"text": {"field": "t"}}},
  {"transform": [{"filter": "datum.g == 'nm'"}], "mark": {"type": "text", "align": "left", "baseline": "alphabetic", "font": "Liberation Serif", "fontSize": 34, "color": "#221e1f"}, "encoding": {"text": {"field": "t"}}},
  {"transform": [{"filter": "datum.g == 'tick'"}], "mark": {"type": "text", "align": "center", "baseline": "alphabetic", "font": "Liberation Serif", "fontSize": 46, "color": "#221e1f"}, "encoding": {"text": {"field": "t"}}},
  {"transform": [{"filter": "datum.g == 'cap'"}], "mark": {"type": "text", "align": "center", "baseline": "alphabetic", "font": "Liberation Serif", "fontSize": 44, "color": "#221e1f"}, "encoding": {"text": {"field": "t"}}}
 ]}
]
}
